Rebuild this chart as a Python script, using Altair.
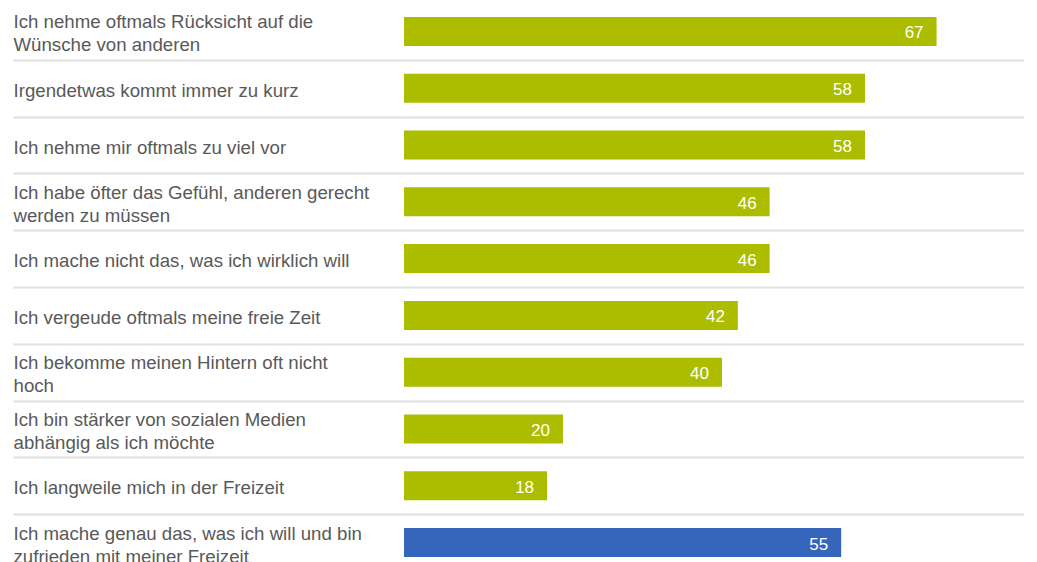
import altair as alt
import pandas as pd

labels = [
    "Ich nehme oftmals Rücksicht auf die|Wünsche von anderen",
    "Irgendetwas kommt immer zu kurz",
    "Ich nehme mir oftmals zu viel vor",
    "Ich habe öfter das Gefühl, anderen gerecht|werden zu müssen",
    "Ich mache nicht das, was ich wirklich will",
    "Ich vergeude oftmals meine freie Zeit",
    "Ich bekomme meinen Hintern oft nicht|hoch",
    "Ich bin stärker von sozialen Medien|abhängig als ich möchte",
    "Ich langweile mich in der Freizeit",
    "Ich mache genau das, was ich will und bin|zufrieden mit meiner Freizeit",
]
values = [67, 58, 58, 46, 46, 42, 40, 20, 18, 55]
groups = ["neg"] * 9 + ["pos"]

df = pd.DataFrame({"label": labels, "value": values, "group": groups})

GRID = "#e0e0e0"
FONT = "Liberation Sans"

yscale = alt.Scale(paddingInner=0, paddingOuter=0)
y = alt.Y(
    "label:N",
    sort=labels,
    scale=yscale,
    axis=alt.Axis(
        title=None,
        labelExpr="split(datum.label, '|')",
        labelAlign="left",
        labelBaseline="middle",
        labelPadding=0,
        labelLimit=500,
        labelFont=FONT,
        labelFontSize=18.67,
        labelColor="#595959",
        labelLineHeight=23,
        labelOffset={
            "condition": {"test": "indexof(datum.label, '|') >= 0", "value": -9.5},
            "value": 2,
        },
        tickSize=391,
        tickBand="extent",
        tickColor=GRID,
        tickWidth=2,
        grid=True,
        gridColor=GRID,
        gridWidth=2,
        domain=False,
    ),
)
x = alt.X("value:Q", scale=alt.Scale(domain=[0, 78]), axis=None)

bars = alt.Chart(df).mark_bar(height={"band": 0.51}).encode(
    x=x,
    y=y,
    color=alt.Color(
        "group:N",
        scale=alt.Scale(domain=["neg", "pos"], range=["#acbd00", "#3566bb"]),
        legend=None,
    ),
)

text = alt.Chart(df).mark_text(
    align="right", baseline="middle", dx=-13, dy=2, color="white",
    font=FONT, fontSize=17,
).encode(x=x, y=y, text="value:Q")

chart = (bars + text).properties(
    width=620,
    height=568,
    autosize=alt.AutoSizeParams(type="none"),
    padding={"left": 396, "top": -5, "right": 0, "bottom": 0},
).configure_view(stroke=None)

chart.save("out.html", embed_options={"renderer": "svg", "actions": False})
